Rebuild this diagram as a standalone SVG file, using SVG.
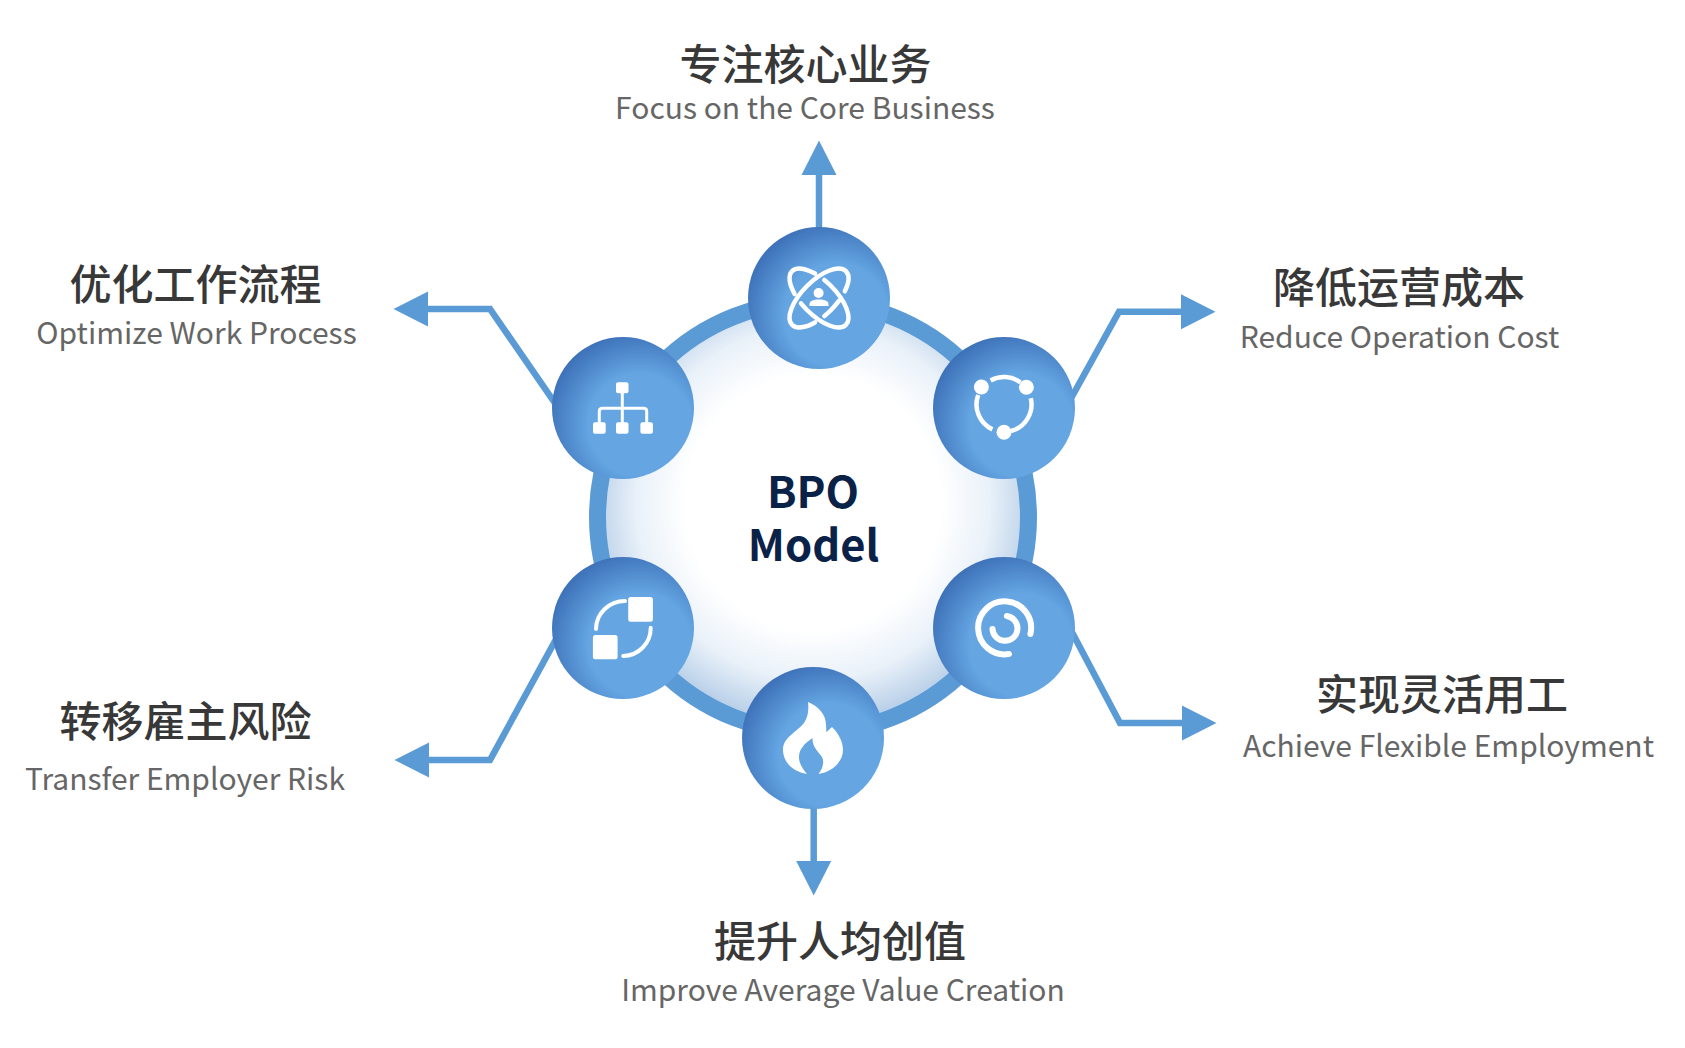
<svg xmlns="http://www.w3.org/2000/svg" width="1685" height="1048" viewBox="0 0 1685 1048">
<style>
text{font-family:"Noto Sans CJK SC","Noto Sans",sans-serif;text-anchor:middle}
.t{font-size:42px;font-weight:500;fill:#383838}
.e{font-size:30px;font-weight:400;fill:#666}
.c{font-size:43.5px;font-weight:700;fill:#0a2248}
.conn{fill:none;stroke:#5b9bd5;stroke-width:6.5;stroke-linejoin:miter}
.ball{fill:url(#ballGrad)}
.l{fill:none;stroke:#fff;stroke-linecap:round}
.f{fill:#fff}
</style>
<defs>
<radialGradient id="core" gradientUnits="userSpaceOnUse" cx="813" cy="503" r="221">
<stop offset="0.58" stop-color="#fff"/>
<stop offset="0.8" stop-color="#e9f1f9"/>
<stop offset="1" stop-color="#b8cfe8"/>
</radialGradient>
<radialGradient id="ballGrad" cx="0.62" cy="0.62" r="0.66">
<stop offset="0.55" stop-color="#64a5e2"/>
<stop offset="1" stop-color="#3e72b9"/>
</radialGradient>
<marker id="arrow" markerUnits="userSpaceOnUse" markerWidth="36" markerHeight="36" refX="0" refY="18" orient="auto">
<path d="M0,0.5 L34.5,18 L0,35.5 Z" fill="#5b9bd5"/>
</marker>
</defs>
<g id="connectors">
<path class="conn" d="M819,235 V175" marker-end="url(#arrow)"/>
<path class="conn" d="M813.7,800 V861" marker-end="url(#arrow)"/>
<path class="conn" d="M568,422 L490,309 H428" marker-end="url(#arrow)"/>
<path class="conn" d="M1064,411 L1119,311.7 H1181" marker-end="url(#arrow)"/>
<path class="conn" d="M566,621 L490,760 H429" marker-end="url(#arrow)"/>
<path class="conn" d="M1065,619 L1120,723 H1182" marker-end="url(#arrow)"/>
</g>
<g id="core-node">
<circle cx="813" cy="517" r="215.5" fill="url(#core)" stroke="#5b9bd5" stroke-width="17"/>
<text class="c" x="813" y="507.5">BPO</text>
<text class="c" x="813.5" y="560.5">Model</text>
</g>
<g id="node-focus">
<circle class="ball" cx="819" cy="298" r="71"/>
<ellipse class="l" cx="819" cy="298" rx="38" ry="17" transform="rotate(45 819 298)" stroke-width="4.5" pathLength="178" stroke-dasharray="53.5 11 49 11 53.5"/>
<ellipse class="l" cx="819" cy="298" rx="38" ry="17" transform="rotate(-45 819 298)" stroke-width="4.5" pathLength="178" stroke-dasharray="21.5 11 21 11 113.5"/>
<circle class="f" cx="818.6" cy="293" r="5"/>
<path class="f" d="M809.5,306 V304 C809.5,301 813,299.5 819,299.5 C825,299.5 828.5,301 828.5,304 V306 Z"/>
<text class="t" x="805.5" y="79.5">专注核心业务</text>
<text class="e" x="805" y="118.5">Focus on the Core Business</text>
</g>
<g id="node-process">
<circle class="ball" cx="623" cy="408" r="71"/>
<rect class="f" x="616" y="382.3" width="12.5" height="11" rx="2"/>
<rect class="f" x="593" y="422.3" width="12.7" height="11.4" rx="2"/>
<rect class="f" x="616" y="422.3" width="12.5" height="11.4" rx="2"/>
<rect class="f" x="640.4" y="422.3" width="12.5" height="11.4" rx="2"/>
<path d="M622.3,393 V423 M599.3,423 V411.3 Q599.3,408.3 602.3,408.3 H643.7 Q646.7,408.3 646.7,411.3 V423" fill="none" stroke="#fff" stroke-width="3"/>
<text class="t" x="195.6" y="299.7">优化工作流程</text>
<text class="e" x="196.5" y="344">Optimize Work Process</text>
</g>
<g id="node-cost">
<circle class="ball" cx="1004" cy="408" r="71"/>
<g fill="none" stroke="#fff" stroke-width="4.5">
<path d="M990.7,380.5 A27.5,27.5 0 0 1 1020.5,382.5"/>
<path d="M1030.8,398.3 A27.5,27.5 0 0 1 1011.1,431"/>
<path d="M992.4,429.4 A27.5,27.5 0 0 1 978.2,395"/>
</g>
<circle class="f" cx="981.4" cy="387" r="7.5"/>
<circle class="f" cx="1026.4" cy="387.3" r="7.5"/>
<circle class="f" cx="1004" cy="432.3" r="7.5"/>
<text class="t" x="1399" y="303">降低运营成本</text>
<text class="e" x="1399.5" y="348">Reduce Operation Cost</text>
</g>
<g id="node-flexible">
<circle class="ball" cx="1004" cy="628" r="71"/>
<path class="l" stroke-width="6" d="M1030.4,634 A26.5,26.5 0 1 0 1009,654"/>
<path class="l" stroke-width="6" d="M992.5,629 A12.5,12.5 0 1 0 1006.8,616"/>
<text class="t" x="1442" y="709.5">实现灵活用工</text>
<text class="e" x="1448.5" y="757">Achieve Flexible Employment</text>
</g>
<g id="node-risk">
<circle class="ball" cx="623" cy="628" r="71"/>
<rect class="f" x="628.2" y="597" width="24.7" height="24.7" rx="2.5"/>
<rect class="f" x="592.9" y="635" width="24.7" height="24.3" rx="2.5"/>
<path class="l" stroke-width="4" d="M625,601 A29,28 0 0 0 596,629"/>
<path class="l" stroke-width="4" d="M650.7,627.7 A28,28 0 0 1 623.2,656"/>
<text class="t" x="185.5" y="737">转移雇主风险</text>
<text class="e" x="185" y="790">Transfer Employer Risk</text>
</g>
<g id="node-value">
<circle class="ball" cx="813" cy="738" r="71"/>
<path class="f" d="M808,702 C818,706 826,714 826,725 C826.5,728 826,731 826.5,732 L832,727 C838,733 843,741 843,750 C843,762 832,772 818.5,774 C823,768 824.5,762 822,757 C819,752 812,747 812.5,738 C805,743 799,749 799,757 C799,764 803,769 807,774 C794,772 783,763 783,750 C783,737 796,733 804,723 C808,717 809,710 808,702 Z"/>
<text class="t" x="840" y="957">提升人均创值</text>
<text class="e" x="843" y="1001">Improve Average Value Creation</text>
</g>
</svg>
